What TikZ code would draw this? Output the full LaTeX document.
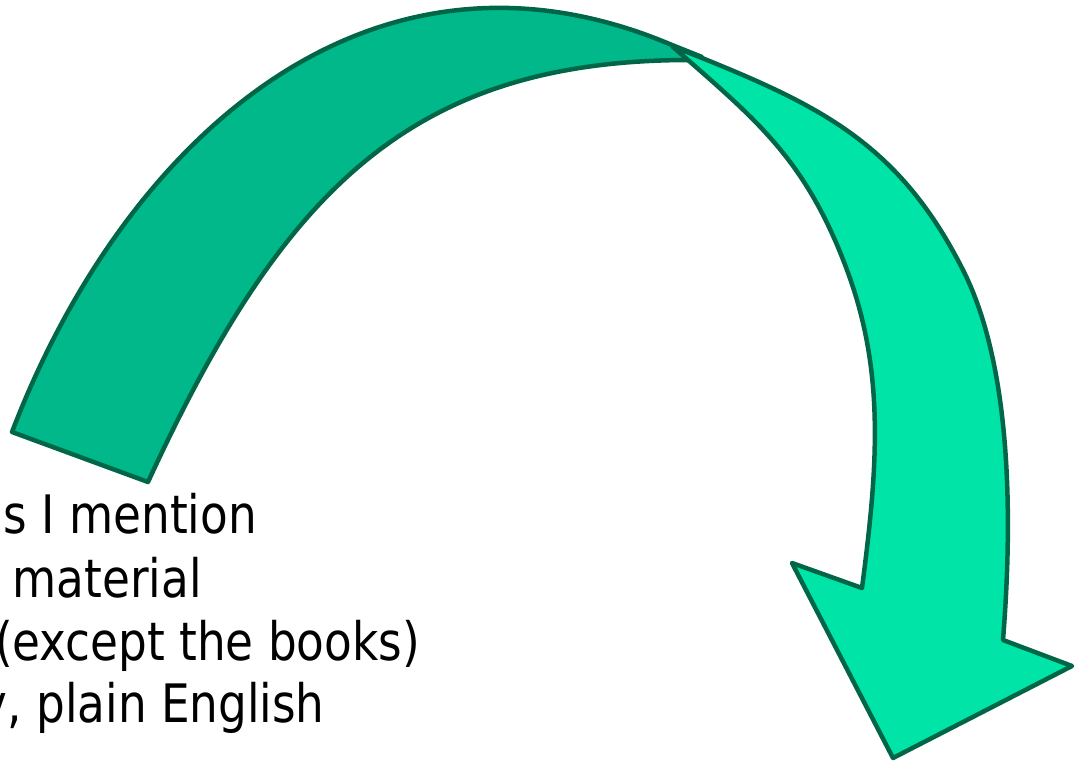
\documentclass[tikz,border=0pt]{standalone}
\usepackage{fontspec}
\setmainfont[FakeStretch=0.95]{DejaVu Sans Condensed}
\definecolor{bandA}{HTML}{00B88A}
\definecolor{bandB}{HTML}{00E4A8}
\definecolor{edgecol}{HTML}{006647}
\begin{document}
\begin{tikzpicture}[x=1pt,y=-1pt,
  band/.style={draw=edgecol,line width=4.5pt,line join=round},
  txt/.style={anchor=base east,inner sep=0pt,font=\fontsize{53}{63}\selectfont}]
\useasboundingbox (0,0) rectangle (1080,761);
\clip (0,0) rectangle (1080,761);
% back (darker) part of the ribbon
\filldraw[band,fill=bandA]
  (12,432) .. controls (123,142) and (368,-84) .. (672,45) -- (702,57)
  -- (702,62) -- (690,60) .. controls (410,60) and (282,191) .. (148,482)
  -- cycle;
% front (lighter) part with the arrow head
\filldraw[band,fill=bandB]
  (672,46) .. controls (811.5,101.5) and (895.5,136.5) .. (963,270)
  .. controls (1006,355) and (1015,490) .. (1003,640)
  -- (1072,666) -- (893,758) -- (792,563) -- (862,588)
  .. controls (877.6,468) and (885.5,373.4) .. (847,270)
  .. controls (805,157) and (754.5,118.6) .. (672,46)
  -- cycle;
\node[txt] (l1) at (257,533) {s I mention};
\node[txt] (l2) at (202,597) {material};
\node[txt] (l3) at (420,660) {(except the books)};
\node[txt] (l4) at (325,722) {y, plain English};
\end{tikzpicture}
\end{document}
